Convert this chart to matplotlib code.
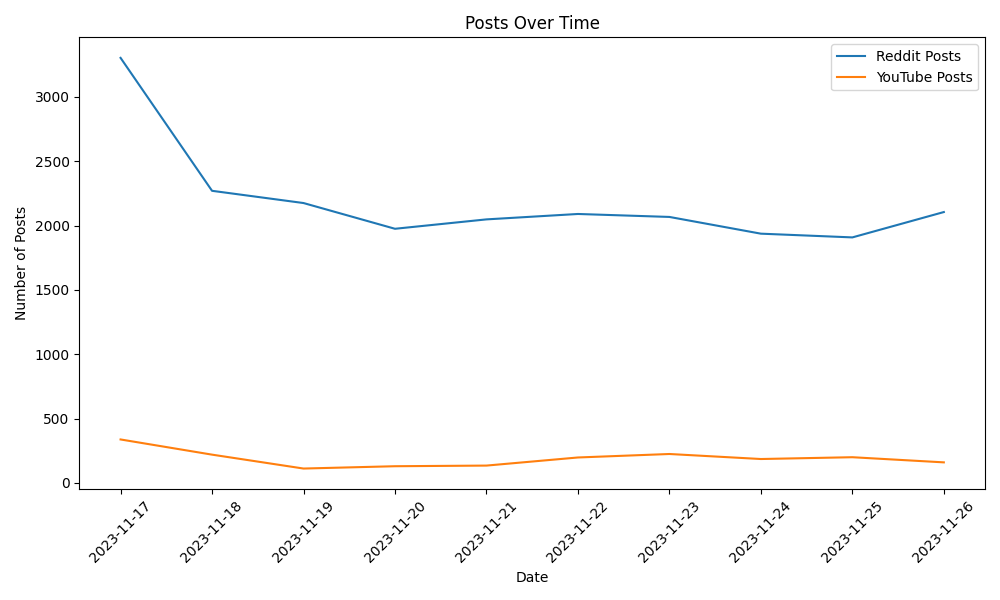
import matplotlib
matplotlib.use("Agg")
import matplotlib.pyplot as plt
import pandas as pd

dates = [
    "2023-11-17", "2023-11-18", "2023-11-19", "2023-11-20", "2023-11-21",
    "2023-11-22", "2023-11-23", "2023-11-24", "2023-11-25", "2023-11-26",
]
reddit_posts = [3303, 2270, 2175, 1975, 2048, 2090, 2067, 1937, 1908, 2105]
youtube_posts = [338, 220, 112, 130, 135, 198, 225, 186, 200, 160]

df = pd.DataFrame({"date": dates, "reddit": reddit_posts, "youtube": youtube_posts})

fig, ax = plt.subplots(figsize=(10, 6))
ax.plot(df["date"], df["reddit"], label="Reddit Posts")
ax.plot(df["date"], df["youtube"], label="YouTube Posts")

ax.set_title("Posts Over Time")
ax.set_xlabel("Date")
ax.set_ylabel("Number of Posts")
ax.legend()
plt.xticks(rotation=45)
plt.tight_layout()
plt.savefig("out.png", dpi=100)
